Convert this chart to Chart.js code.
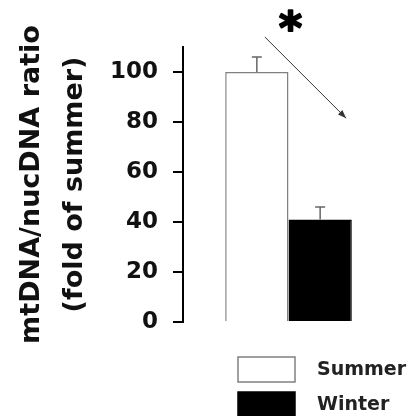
<!DOCTYPE html>
<html>
<head>
<meta charset="utf-8">
<script src="https://cdn.jsdelivr.net/npm/chart.js@4.4.1/dist/chart.umd.min.js"></script>
<style>
  html, body { margin: 0; padding: 0; background: #fff; }
  #wrap { width: 414px; height: 416px; }
</style>
</head>
<body>
<div id="wrap"><canvas id="chart" width="414" height="416"></canvas></div>
<script>
const categories = [''];
const seasons = ['Summer', 'Winter'];
const ratioValues = [100, 41];
const ratioErrors = [6, 5];
const tickValues = [0, 20, 40, 60, 80, 100];
const axisTitle = ['mtDNA/nucDNA ratio', '(fold of summer)'];

const fillColors = ['#ffffff', '#000000'];
const edgeColors = ['#808080', '#000000'];

// error bars on top of each bar
const errorBars = {
  id: 'errorBars',
  afterDatasetsDraw(chart) {
    const ctx = chart.ctx;
    const y = chart.scales.y;
    ctx.save();
    ctx.strokeStyle = '#666';
    ctx.lineWidth = 1.5;
    chart.data.datasets.forEach((ds, i) => {
      const bar = chart.getDatasetMeta(i).data[0];
      const top = y.getPixelForValue(ds.data[0] + ratioErrors[i]);
      ctx.beginPath();
      ctx.moveTo(bar.x, bar.y);
      ctx.lineTo(bar.x, top);
      ctx.moveTo(bar.x - 5, top);
      ctx.lineTo(bar.x + 5, top);
      ctx.stroke();
    });
    ctx.restore();
  }
};

// arrow + asterisk showing the drop
const decrease = {
  id: 'decrease',
  afterDraw(chart) {
    const ctx = chart.ctx;
    const y = chart.scales.y;
    const a = chart.getDatasetMeta(0).data[0];
    const b = chart.getDatasetMeta(1).data[0];
    const x1 = a.x + 8, y1 = y.getPixelForValue(114);
    const x2 = b.x + 26, y2 = y.getPixelForValue(81.5);
    ctx.save();
    ctx.strokeStyle = '#333';
    ctx.fillStyle = '#333';
    ctx.lineWidth = 1;
    ctx.beginPath();
    ctx.moveTo(x1, y1);
    ctx.lineTo(x2, y2);
    ctx.stroke();
    const ang = Math.atan2(y2 - y1, x2 - x1);
    ctx.beginPath();
    ctx.moveTo(x2, y2);
    ctx.lineTo(x2 - 9 * Math.cos(ang - 0.35), y2 - 9 * Math.sin(ang - 0.35));
    ctx.lineTo(x2 - 9 * Math.cos(ang + 0.35), y2 - 9 * Math.sin(ang + 0.35));
    ctx.closePath();
    ctx.fill();

    ctx.fillStyle = '#000';
    ctx.strokeStyle = '#000';
    ctx.lineWidth = 2;
    ctx.lineJoin = 'round';
    ctx.font = 'bold 44px "DejaVu Sans"';
    ctx.textAlign = 'center';
    ctx.textBaseline = 'middle';
    const sx = (a.x + b.x) / 2 + 2;
    ctx.fillText('*', sx, 32);
    ctx.strokeText('*', sx, 32);
    ctx.restore();
  }
};

// stacked legend under the plot
const boxLegend = {
  id: 'boxLegend',
  afterDraw(chart) {
    const ctx = chart.ctx;
    const area = chart.chartArea;
    const left = area.left + 55;
    ctx.save();
    ctx.font = 'bold 19px "DejaVu Sans"';
    ctx.textBaseline = 'middle';
    chart.data.datasets.forEach((ds, i) => {
      const top = area.bottom + 35 + i * 35;
      ctx.fillStyle = ds.backgroundColor;
      ctx.fillRect(left, top, 57, 25);
      ctx.strokeStyle = ds.borderColor;
      ctx.lineWidth = 1.5;
      ctx.strokeRect(left, top, 57, 25);
      ctx.fillStyle = '#222';
      ctx.fillText(ds.label, left + 79, top + 13);
    });
    ctx.restore();
  }
};

new Chart(document.getElementById('chart'), {
  type: 'bar',
  data: {
    labels: categories,
    datasets: seasons.map((s, i) => ({
      label: s,
      data: [ratioValues[i]],
      backgroundColor: fillColors[i],
      borderColor: edgeColors[i],
      borderWidth: 1.5,
      categoryPercentage: 0.6,
      barPercentage: 1
    }))
  },
  options: {
    responsive: false,
    animation: false,
    layout: { padding: { top: 47, right: 20, bottom: 94, left: 0 } },
    plugins: { legend: { display: false }, tooltip: { enabled: false } },
    scales: {
      x: { display: false },
      y: {
        min: 0,
        max: 110,
        afterBuildTicks: (scale) => { scale.ticks = tickValues.map(v => ({ value: v })); },
        afterFit: (scale) => { scale.width = 183; },
        border: { display: true, color: '#000', width: 2 },
        grid: { drawOnChartArea: false, color: '#000', lineWidth: 2, tickLength: 10 },
        ticks: {
          color: '#111',
          padding: 15,
          font: { family: 'DejaVu Sans', weight: 'bold', size: 23 }
        },
        title: {
          display: true,
          text: axisTitle,
          color: '#111',
          padding: { top: 10, bottom: 0 },
          font: { family: 'DejaVu Sans', weight: 'bold', size: 27, lineHeight: 1.6 }
        }
      }
    }
  },
  plugins: [errorBars, decrease, boxLegend]
});
</script>
</body>
</html>
